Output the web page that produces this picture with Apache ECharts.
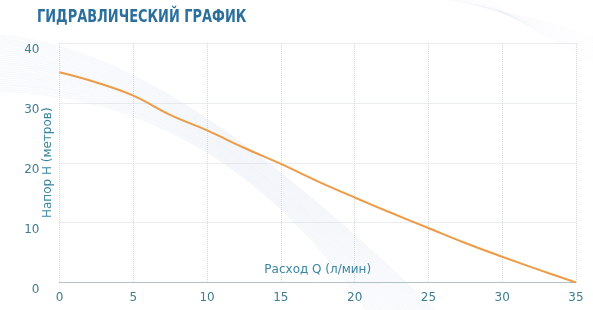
<!DOCTYPE html>
<html><head><meta charset="utf-8">
<script src="https://cdn.jsdelivr.net/npm/echarts@6/dist/echarts.min.js"></script>
<style>html,body{margin:0;padding:0;background:#fff}#c{width:593px;height:310px}</style>
</head><body><div id="c"></div>
<script>
var titleText = 'ГИДРАВЛИЧЕСКИЙ ГРАФИК';
var xName = 'Расход Q (л/мин)';
var yName = 'Напор Н (метров)';
var flowQ = [0, 2.5, 5, 7.5, 10, 12.5, 15, 17.5, 20, 22.5, 25, 27.5, 30, 32.5, 35];
var headH = [35.1, 33.4, 31.2, 28.0, 25.4, 22.5, 19.8, 16.9, 14.2, 11.6, 9.1, 6.6, 4.3, 2.1, 0];

var chart = echarts.init(document.getElementById('c'), null, {renderer: 'canvas'});
var pts = flowQ.map(function (q, i) { return [q, headH[i]]; });

// decorative ribbon (background ornament)
var deco = [];
for (var i = 0; i < 30; i++) {
  var t = i / 29;
  deco.push({
    type: 'bezierCurve', silent: true, z: -10,
    shape: {
      x1: 0, y1: 35 + 56 * t,
      cpx1: 120, cpy1: 45 + 50 * t,
      cpx2: 255, cpy2: 135 + 10 * t,
      x2: 370 + 70 * (1 - t), y2: 315
    },
    style: {stroke: 'rgba(170,195,220,0.11)', lineWidth: 1.2, fill: null}
  });
}
for (var j = 0; j < 10; j++) {
  var s = j / 9;
  deco.push({
    type: 'bezierCurve', silent: true, z: -10,
    shape: {x1: 440 + 50 * s, y1: -2, cpx1: 510, cpy1: 12 + 10 * s, cpx2: 560, cpy2: 25 + 15 * s, x2: 600, y2: 40 + 25 * s},
    style: {stroke: 'rgba(180,200,220,0.07)', lineWidth: 1, fill: null}
  });
}
deco.push({
  type: 'text', left: 37, top: 8, z: 10,
  scaleX: 0.72, originX: 0,
  style: {text: titleText, fill: '#2b6f9c', font: 'bold 18px "DejaVu Sans", sans-serif'}
});

chart.setOption({
  animation: false,
  backgroundColor: '#ffffff',
  graphic: deco,
  grid: {left: 59.5, right: 17, top: 43, bottom: 27.5, containLabel: false, outerBoundsMode: 'none'},
  xAxis: {
    type: 'value', min: 0, max: 35, interval: 5,
    name: xName, nameLocation: 'middle', nameGap: -18.5, nameMoveOverlap: false,
    nameTextStyle: {color: '#3a86a0', fontSize: 12, fontFamily: 'DejaVu Sans'},
    axisLine: {show: true, lineStyle: {color: '#b4c0cc', width: 1}},
    axisTick: {show: false},
    axisLabel: {color: '#3f7d8f', fontSize: 12, fontFamily: 'DejaVu Sans', margin: 9},
    splitLine: {show: true, lineStyle: {color: '#d5dadf', type: 'dotted', width: 1}}
  },
  yAxis: {
    type: 'value', min: 0, max: 40, interval: 10,
    name: yName, nameLocation: 'middle', nameGap: 6, nameMoveOverlap: false,
    nameTextStyle: {color: '#3a86a0', fontSize: 12, fontFamily: 'DejaVu Sans'},
    axisLine: {show: false},
    axisTick: {show: false},
    axisLabel: {color: '#3f7d8f', fontSize: 12, fontFamily: 'DejaVu Sans', margin: 20, verticalAlign: 'top', padding: [1, 0, 0, 0]},
    splitLine: {show: true, lineStyle: {color: '#d5dadf', type: 'dotted', width: 1}}
  },
  series: [{
    type: 'line',
    data: pts,
    smooth: 0.4,
    showSymbol: false,
    lineStyle: {color: '#ef9a45', width: 2}
  }]
});
</script></body></html>
